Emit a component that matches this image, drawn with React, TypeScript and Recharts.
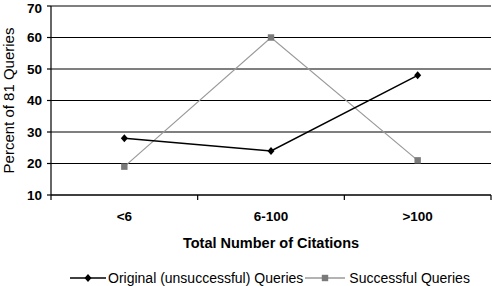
import { LineChart, Line, XAxis, YAxis, CartesianGrid, Legend } from "recharts"

const categories = ["<6", "6-100", ">100"]
const originalQueries = [28, 24, 48]
const successfulQueries = [19, 60, 21]
const yTicks = [10, 20, 30, 40, 50, 60, 70]

const data = categories.map((category, i) => ({
  category,
  original: originalQueries[i],
  successful: successfulQueries[i],
}))

const FONT = "Arial, 'Liberation Sans', sans-serif"
const GRAY_LINE = "#9a9a9a"
const GRAY_MARK = "#7a7a7a"
const X_TICK_MARGIN = 16
const X_TICK_LEN = 5

const Diamond = ({ cx, cy, size = 4 }: any) => (
  <path d={`M${cx},${cy - size} L${cx + size - 0.5},${cy} L${cx},${cy + size} L${cx - size + 0.5},${cy} Z`} fill="#000" />
)

const Square = ({ cx, cy, size = 3.2 }: any) => (
  <rect x={cx - size} y={cy - size} width={size * 2} height={size * 2} fill={GRAY_MARK} />
)

// category label plus the small tick marks on the band edges (Excel style)
const CatTick = ({ x, y, payload, index }: any) => {
  const half = payload.offset || 0
  const top = y - X_TICK_MARGIN
  return (
    <g>
      {index === 0 && <line x1={x - half} y1={top} x2={x - half} y2={top + X_TICK_LEN} stroke="#000" strokeWidth={1.2} />}
      <line x1={x + half} y1={top} x2={x + half} y2={top + X_TICK_LEN} stroke="#000" strokeWidth={1.2} />
      <text x={x} y={y} dy="0.71em" textAnchor="middle" fontFamily={FONT} fontSize={13.5} fontWeight="bold" fill="#000">
        {payload.value}
      </text>
    </g>
  )
}

const renderLegend = () => (
  <div
    style={{
      height: 22,
      paddingTop: 6,
      boxSizing: "border-box",
      display: "flex",
      alignItems: "center",
      fontFamily: FONT,
      fontSize: 14,
      lineHeight: "16px",
      color: "#000",
      paddingLeft: 70,
    }}
  >
    <svg width={36} height={12}>
      <line x1={0} y1={6} x2={36} y2={6} stroke="#000" strokeWidth={1.5} />
      <Diamond cx={18} cy={6} />
    </svg>
    <span style={{ marginLeft: 2 }}>Original (unsuccessful) Queries</span>
    <svg width={40} height={12} style={{ marginLeft: 2 }}>
      <line x1={0} y1={6} x2={40} y2={6} stroke={GRAY_LINE} strokeWidth={1.5} />
      <Square cx={20} cy={6} />
    </svg>
    <span style={{ marginLeft: 4 }}>Successful Queries</span>
  </div>
)

const YLabel = ({ viewBox }: any) => {
  const x = viewBox.x + 8
  const y = viewBox.y + viewBox.height / 2
  return (
    <text
      x={x}
      y={y}
      transform={`rotate(-90, ${x}, ${y})`}
      textAnchor="middle"
      dominantBaseline="central"
      fontFamily={FONT}
      fontSize={15}
      fill="#000"
    >
      Percent of 81 Queries
    </text>
  )
}

export default function App() {
  return (
    <div style={{ position: "absolute", left: 0, top: 0, background: "#fff" }}>
      <LineChart width={492} height={286} data={data} margin={{ top: 6, right: 1, left: 0, bottom: 0 }}>
        <CartesianGrid vertical={false} stroke="#000" strokeWidth={1.2} />
        <XAxis
          dataKey="category"
          scale="band"
          stroke="#000"
          strokeWidth={1.2}
          tickLine={false}
          tickSize={0}
          tickMargin={X_TICK_MARGIN}
          height={69}
          tick={<CatTick />}
          label={{
            value: "Total Number of Citations",
            position: "insideBottom",
            offset: 16,
            fontFamily: FONT,
            fontSize: 14.5,
            fontWeight: "bold",
            fill: "#000",
          }}
        />
        <YAxis
          domain={[10, 70]}
          ticks={yTicks}
          width={51}
          tickSize={4}
          tickMargin={5}
          stroke="#000"
          strokeWidth={1.2}
          tick={{ fontFamily: FONT, fontSize: 13.5, fontWeight: "bold", fill: "#000" }}
          label={<YLabel />}
        />
        <YAxis yAxisId="right" orientation="right" width={0} tick={false} tickLine={false} stroke="#000" strokeWidth={1.2} />
        <Legend verticalAlign="bottom" content={renderLegend} wrapperStyle={{ left: 0, width: 492 }} />
        <Line
          dataKey="successful"
          stroke={GRAY_LINE}
          strokeWidth={1.2}
          dot={(p: any) => <Square key={`s${p.index}`} cx={p.cx} cy={p.cy} />}
          isAnimationActive={false}
        />
        <Line
          dataKey="original"
          stroke="#000"
          strokeWidth={1.5}
          dot={(p: any) => <Diamond key={`o${p.index}`} cx={p.cx} cy={p.cy} />}
          isAnimationActive={false}
        />
      </LineChart>
    </div>
  )
}
